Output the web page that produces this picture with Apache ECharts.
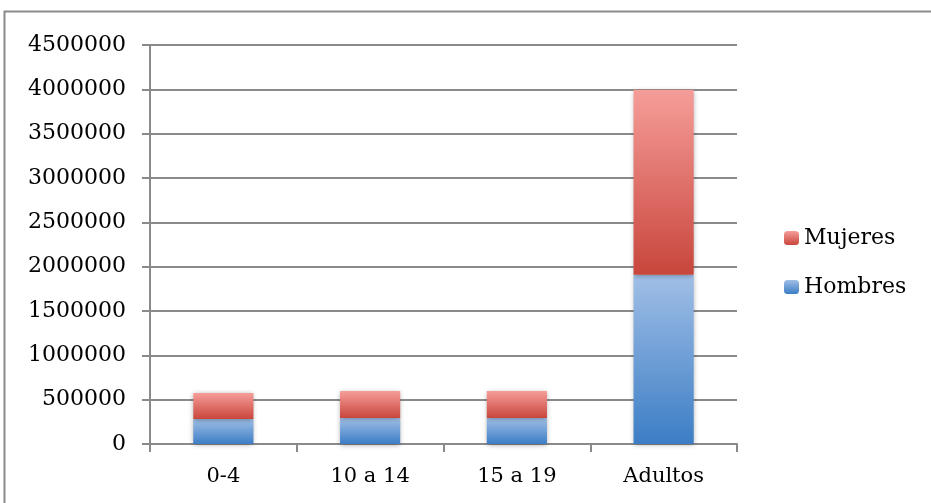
<!DOCTYPE html>
<html>
<head>
<meta charset="utf-8">
<script src="https://cdn.jsdelivr.net/npm/echarts@6/dist/echarts.min.js"></script>
<style>
  html, body { margin: 0; padding: 0; background: #fff; }
  #chart { width: 931px; height: 503px; }
</style>
</head>
<body>
<div id="chart"></div>
<script>
// Population by age group, split by sex
const categories = ['0-4', '10 a 14', '15 a 19', 'Adultos'];
const hombres = [282000, 293000, 293000, 1910000];
const mujeres = [293000, 305000, 305000, 2085000];
const yTicks = { min: 0, max: 4500000, interval: 500000 };

const fontFamily = '"DejaVu Serif", "Liberation Serif", serif';

function vGrad(top, bottom) {
  return new echarts.graphic.LinearGradient(0, 0, 0, 1, [
    { offset: 0, color: top },
    { offset: 1, color: bottom }
  ]);
}

const redFill = vGrad('#f69d99', '#c8463c');
const blueFill = vGrad('#a0bfe6', '#3c7dc5');

const chart = echarts.init(document.getElementById('chart'), null, { renderer: 'canvas' });

chart.setOption({
  backgroundColor: '#ffffff',
  animation: false,
  graphic: [{
    type: 'rect',
    shape: { x: 4.5, y: 11.5, width: 1000, height: 600 },
    style: { fill: 'none', stroke: '#8a8a8a', lineWidth: 2 },
    silent: true,
    z: -10
  }],
  grid: { left: 150, right: 194, top: 45, bottom: 59, containLabel: false },
  legend: {
    orient: 'vertical',
    left: 784,
    top: 227,
    padding: 0,
    itemWidth: 15,
    itemHeight: 14,
    itemGap: 27,
    data: [
      { name: 'Mujeres', itemStyle: { color: redFill } },
      { name: 'Hombres', itemStyle: { color: blueFill } }
    ],
    textStyle: { fontFamily: fontFamily, fontSize: 22, color: '#000' }
  },
  xAxis: {
    type: 'category',
    data: categories,
    axisLine: { lineStyle: { color: '#8a8a8a', width: 2 } },
    axisTick: { show: true, length: 8, lineStyle: { color: '#8a8a8a', width: 2 } },
    axisLabel: { fontFamily: fontFamily, fontSize: 21, color: '#000', margin: 22 }
  },
  yAxis: {
    type: 'value',
    min: yTicks.min,
    max: yTicks.max,
    interval: yTicks.interval,
    axisLine: { show: true, lineStyle: { color: '#8a8a8a', width: 2 } },
    axisTick: { show: true, length: 8, lineStyle: { color: '#8a8a8a', width: 2 } },
    splitLine: { show: true, lineStyle: { color: '#8a8a8a', width: 2 } },
    axisLabel: {
      fontFamily: fontFamily,
      fontSize: 22,
      color: '#000',
      margin: 24,
      formatter: function (v) { return String(v); }
    }
  },
  series: [
    {
      name: 'Hombres',
      type: 'bar',
      stack: 'total',
      barWidth: '41%',
      data: hombres,
      itemStyle: {
        color: blueFill,
        shadowColor: 'rgba(0,0,0,0.35)',
        shadowBlur: 5,
        shadowOffsetX: 0,
        shadowOffsetY: 1
      }
    },
    {
      name: 'Mujeres',
      type: 'bar',
      stack: 'total',
      barWidth: '41%',
      data: mujeres,
      itemStyle: {
        color: redFill,
        shadowColor: 'rgba(0,0,0,0.35)',
        shadowBlur: 5,
        shadowOffsetX: 0,
        shadowOffsetY: 1
      }
    }
  ]
});
</script>
</body>
</html>
